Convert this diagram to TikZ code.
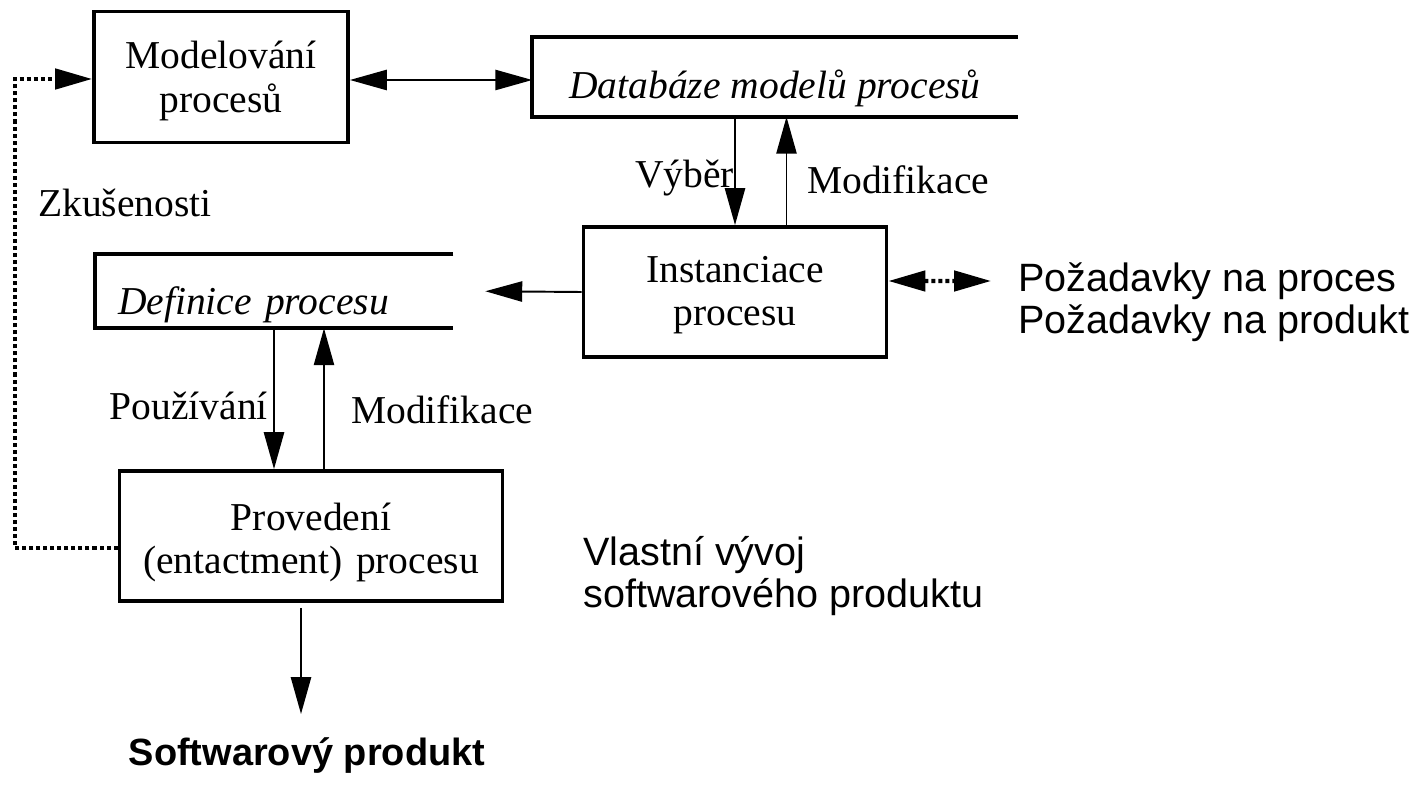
\documentclass[tikz,border=0pt]{standalone}
\usepackage{fontspec}
\setmainfont{Liberation Serif}
\setsansfont{Liberation Sans}
\usetikzlibrary{arrows.meta}
\tikzset{
  >={Triangle[length=21pt,width=11.5pt]},
  blok/.style={draw, line width=2.2pt, align=center, inner sep=0pt,
    font=\fontsize{22.5}{25}\selectfont},
  uloziste/.style={inner sep=0pt, font=\fontsize{22.5}{25}\selectfont\itshape},
  okraj/.style={line width=2.2pt},
  sip/.style={line width=1.1pt, ->},
  sip2/.style={line width=1.1pt, <->},
  tecky/.style={line width=2.3pt, dash pattern=on 2.3pt off 1.7pt},
  popis/.style={inner sep=1pt, font=\fontsize{22.5}{25}\selectfont},
  vstup/.style={inner sep=0pt, align=left, font=\sffamily\fontsize{22.5}{24}\selectfont}
}
\begin{document}
\begin{tikzpicture}[x=0.02cm,y=-0.02cm]
  \useasboundingbox (0,0) rectangle (1425,793);
  %Bloky
  \node[blok, text width=5.08cm, text height=1.14cm, text depth=1.48cm] (model) at (221,77) {Modelování\\procesů};
  \node[uloziste, minimum width=9.7cm, text height=1.22cm, text depth=0.36cm] (db) at (775,77) {Databáze modelů procesů};
  \draw[okraj] (db.north east) -- (db.north west) -- (db.south west) -- (db.south east);
  \node[blok, text width=6.06cm, text height=1.1cm, text depth=1.5cm] (inst) at (735,292) {Instanciace\\procesu};
  \node[uloziste, text width=6.24cm, align=left, inner xsep=0.46cm, text height=1.22cm, text depth=0.26cm] (def) at (274,291) {Definice procesu};
  \draw[okraj] (def.north east) -- (def.north west) -- (def.south west) -- (def.south east);
  \node[blok, text width=7.66cm, text height=1.18cm, text depth=1.42cm] (enact) at (311,536) {Provedení\\(entactment) procesu};
  %Texty
  \node[vstup, anchor=west] (req) at (1018,302) {Požadavky na proces\\Požadavky na produkt};
  \node[vstup, anchor=west] (own) at (583,576) {Vlastní vývoj\\softwarového produktu};
  \node[vstup, font=\sffamily\bfseries\fontsize{21.6}{24}\selectfont] (prod) at (307,756) {Softwarový produkt};
  %Popisky
  \node[popis, anchor=east] (vyber) at (736,178) {Výběr};
  \node[popis, anchor=west] (modif1) at (805,180) {Modifikace};
  \node[popis, anchor=west] (zkus) at (36,203) {Zkušenosti};
  \node[popis, anchor=east] (pouz) at (270,406) {Používání};
  \node[popis, anchor=west] (modif2) at (349,410) {Modifikace};
  %Šipky
  \coordinate (fbtop) at (15,79);
  \coordinate (fbstart) at ([yshift=-0.24cm]enact.west);
  \coordinate (reqtip) at (991,281);
  \coordinate (prodtip) at (301,714);
  \coordinate (selup) at ([xshift=1.03cm]inst.north);
  \coordinate (defup) at ([xshift=1cm]def.south);
  \draw[sip2] ([yshift=-0.06cm]model.east) -- ([yshift=-0.06cm]db.west);
  \draw[sip] (inst.north |- db.south) -- (inst.north);
  \draw[sip] (selup) -- (selup |- db.south);
  \draw[sip, shorten >=0.64cm] (inst.west) -- (def.east);
  \draw[sip] (def.south) -- (def.south |- enact.north);
  \draw[sip] (defup |- enact.north) -- (defup);
  \draw[sip, shorten <=0.1cm] (enact.south -| prodtip) -- (prodtip);
  \draw[tecky, ->] (fbstart) -| (fbtop) -- (fbtop -| model.west);
  \draw[tecky, <->] ([yshift=0.22cm]inst.east) -- (reqtip);
\end{tikzpicture}
\end{document}
